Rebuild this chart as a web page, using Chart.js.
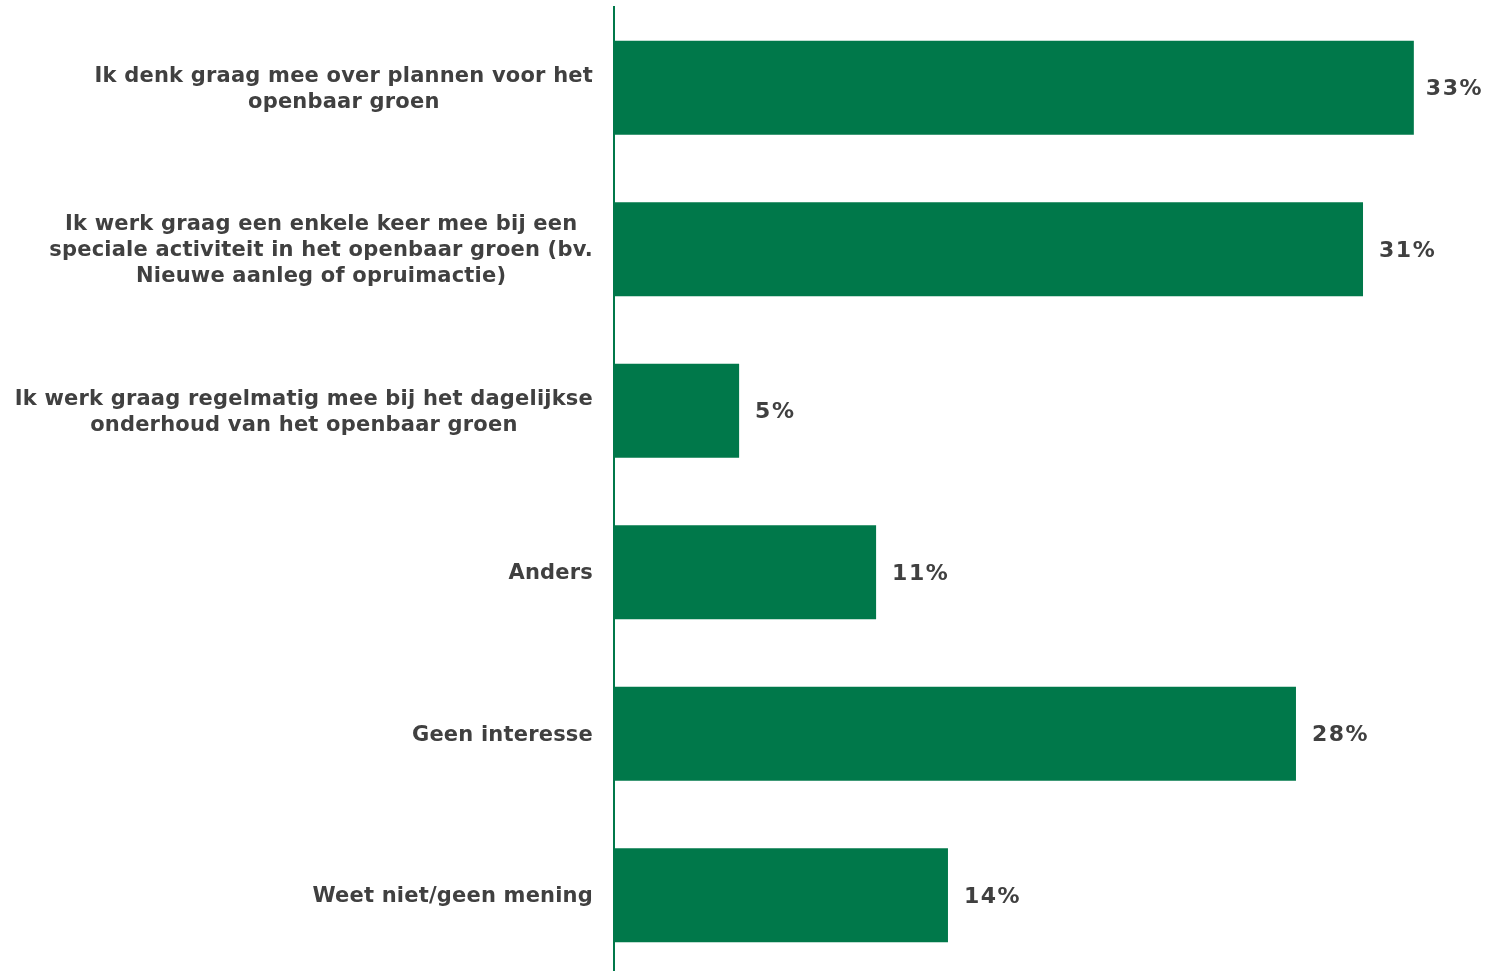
<!DOCTYPE html>
<html>
<head>
<meta charset="utf-8">
<script src="https://cdn.jsdelivr.net/npm/chart.js@4/dist/chart.umd.min.js"></script>
<style>
  html, body { margin: 0; padding: 0; background: #fff; overflow: hidden; }
  #wrap { width: 1487px; height: 976px; position: relative; }
</style>
</head>
<body>
<div id="wrap"><canvas id="bar-chart"></canvas></div>
<script>
var categories = [
  ["Ik denk graag mee over plannen voor het", "openbaar groen"],
  ["Ik werk graag een enkele keer mee bij een", "speciale activiteit in het openbaar groen (bv.", "Nieuwe aanleg of opruimactie)"],
  ["Ik werk graag regelmatig mee bij het dagelijkse", "onderhoud van het openbaar groen"],
  ["Anders"],
  ["Geen interesse"],
  ["Weet niet/geen mening"]
];
var percentages = [33.05, 30.95, 5.17, 10.83, 28.18, 13.8];
var valueLabels = ["33%", "31%", "5%", "11%", "28%", "14%"];

var green = "#00784A";
var textColor = "#404040";
var catFont = "bold 21px Verdana, 'DejaVu Sans', sans-serif";
var valFont = "bold 22px Verdana, 'DejaVu Sans', sans-serif";

var labelPlugin = {
  id: 'labels',
  afterDraw: function(chart) {
    var ctx = chart.ctx;
    var yScale = chart.scales.y;
    var left = chart.chartArea.left;
    ctx.save();
    ctx.fillStyle = textColor;
    ctx.textBaseline = 'middle';
    // category labels: each block centred, block right-aligned to the axis
    ctx.font = catFont;
    ctx.letterSpacing = '0.2px';
    for (var i = 0; i < categories.length; i++) {
      var lines = categories[i];
      var widest = 0;
      for (var j = 0; j < lines.length; j++) {
        widest = Math.max(widest, ctx.measureText(lines[j]).width);
      }
      var cx = left - 21 - widest / 2;
      var cy = yScale.getPixelForValue(i) + 1.5;
      ctx.textAlign = 'center';
      for (var j = 0; j < lines.length; j++) {
        ctx.fillText(lines[j], cx, cy + (j - (lines.length - 1) / 2) * 26);
      }
    }
    // value labels, kept inside the canvas
    ctx.font = valFont;
    ctx.letterSpacing = '1.5px';
    ctx.textAlign = 'left';
    var meta = chart.getDatasetMeta(0);
    meta.data.forEach(function(bar, i) {
      var w = ctx.measureText(valueLabels[i]).width;
      var x = Math.min(bar.x + 16, chart.width - 4 - w);
      ctx.fillText(valueLabels[i], x, bar.y + 2);
    });
    ctx.restore();
  }
};

new Chart(document.getElementById("bar-chart"), {
  type: 'bar',
  data: {
    labels: categories,
    datasets: [{
      data: percentages,
      backgroundColor: green,
      borderWidth: 0,
      barPercentage: 0.582,
      categoryPercentage: 1
    }]
  },
  options: {
    indexAxis: 'y',
    responsive: true,
    maintainAspectRatio: false,
    animation: false,
    layout: { padding: { top: 7, right: 10, bottom: 0, left: 0 } },
    plugins: {
      legend: { display: false },
      tooltip: { enabled: false }
    },
    scales: {
      x: {
        display: false,
        min: 0,
        max: 35.66
      },
      y: {
        ticks: { display: false },
        grid: { display: true, drawOnChartArea: false, drawTicks: false },
        border: { display: true, color: green, width: 2 },
        afterFit: function(scale) { scale.width = 614; }
      }
    }
  },
  plugins: [labelPlugin]
});
</script>
</body>
</html>
